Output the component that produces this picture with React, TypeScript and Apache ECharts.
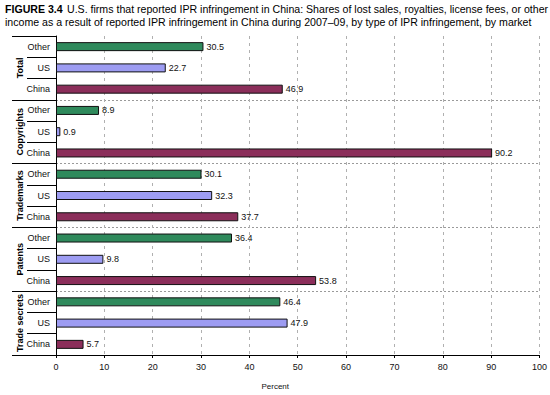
import React, { useEffect, useRef } from "react";
import * as echarts from "echarts";

const titleBold = "FIGURE 3.4";
const titleLine1 = "U.S. firms that reported IPR infringement in China: Shares of lost sales, royalties, license fees, or other";
const titleLine2 = "income as a result of reported IPR infringement in China during 2007–09, by type of IPR infringement, by market";

const groups = ["Total", "Copyrights", "Trademarks", "Patents", "Trade secrets"];
const markets = ["Other", "US", "China"];
const totalValues = [30.5, 22.7, 46.9];
const copyrightValues = [8.9, 0.9, 90.2];
const trademarkValues = [30.1, 32.3, 37.7];
const patentValues = [36.4, 9.8, 53.8];
const tradeSecretValues = [46.4, 47.9, 5.7];

const marketColors: Record<string, string> = {
  Other: "#2f8a5c",
  US: "#9d9cf2",
  China: "#8b2e5a",
};

export default function App() {
  const ref = useRef<HTMLDivElement>(null);
  useEffect(() => {
    if (!ref.current) return;
    const chart = echarts.init(ref.current, null, { renderer: "svg" });
    const groupValues = [totalValues, copyrightValues, trademarkValues, patentValues, tradeSecretValues];
    const cats: string[] = [];
    const data: any[] = [];
    groups.forEach((g, gi) => {
      markets.forEach((m, mi) => {
        cats.push(g + "|" + m);
        data.push({
          value: groupValues[gi][mi],
          itemStyle: { color: marketColors[m] },
        });
      });
    });
    const font = "Arial, 'Liberation Sans', sans-serif";
    const fnt = "10.6px Arial, 'Liberation Sans', sans-serif";
    chart.setOption({
      animation: false,
      textStyle: { fontFamily: font },
      graphic: [
        { type: "text", x: 5, y: 3, style: { text: titleBold, font: "bold " + fnt, fill: "#000", textVerticalAlign: "top" } },
        { type: "text", x: 67, y: 3, style: { text: titleLine1, font: fnt, fill: "#000", textVerticalAlign: "top" } },
        { type: "text", x: 5, y: 16, style: { text: titleLine2, font: fnt, fill: "#000", textVerticalAlign: "top" } },
      ],
      grid: { left: 56, right: 10, top: 36, bottom: 30 },
      xAxis: {
        type: "value",
        min: 0,
        max: 100,
        interval: 10,
        axisLine: { show: true, lineStyle: { color: "#000", width: 1 } },
        axisTick: { show: true, length: 3, lineStyle: { color: "#000" } },
        axisLabel: { fontSize: 9, color: "#111", margin: 7 },
        splitLine: { show: true, lineStyle: { color: "#b0b0b0", type: [3, 4] } },
        name: "Percent",
        nameLocation: "middle",
        nameGap: 27,
        nameTextStyle: { fontSize: 8, color: "#111", padding: [0, 45, 0, 0] },
      },
      yAxis: [
        {
          type: "category",
          data: cats,
          inverse: true,
          axisLine: { show: true, lineStyle: { color: "#000" } },
          axisTick: { show: true, interval: 0, length: 29, lineStyle: { color: "#000" } },
          axisLabel: {
            interval: 0,
            fontSize: 9,
            color: "#111",
            margin: 6,
            formatter: (v: string) => v.split("|")[1],
          },
          splitLine: { show: false },
        },
        {
          type: "category",
          data: groups,
          inverse: true,
          position: "left",
          offset: 0,
          axisLine: { show: false },
          axisTick: { show: true, interval: 0, length: 44, lineStyle: { color: "#000" } },
          axisLabel: {
            interval: 0,
            fontSize: 9,
            fontWeight: "bold",
            color: "#000",
            rotate: 90,
            margin: 32,
          },
          splitLine: {
            show: true,
            interval: (i: number) => i > 0,
            lineStyle: { color: "#9a9a9a", type: [2, 2] },
          },
        },
      ],
      series: [
        {
          type: "bar",
          yAxisIndex: 0,
          data,
          barWidth: 9,
          itemStyle: { borderColor: "#111", borderWidth: 1 },
          label: {
            show: true,
            position: "right",
            distance: 3,
            fontSize: 9,
            color: "#111",
            formatter: (p: any) => p.value.toFixed(1),
          },
        },
      ],
    });
    return () => chart.dispose();
  }, []);
  return <div ref={ref} style={{ width: 550, height: 395, position: "absolute", left: 0, top: 0 }} />;
}
